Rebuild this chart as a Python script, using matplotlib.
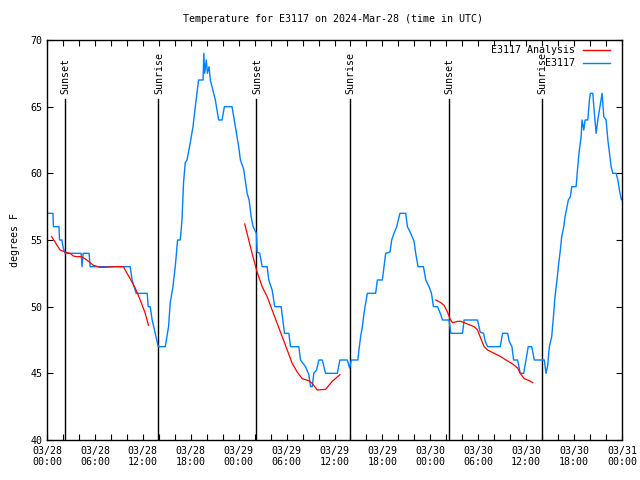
import matplotlib
matplotlib.use("Agg")
import matplotlib.pyplot as plt
import numpy as np

# hours since 2024-03-28 00:00 UTC
blue_h = [0.0, 0.75, 0.8, 1.5, 1.57, 1.88, 2.0, 2.26, 4.27, 4.39, 4.52, 5.27, 5.4, 10.41, 10.66, 10.9,
          11.17, 12.55, 12.67, 12.92, 13.17, 13.55, 13.93, 14.81, 15.22, 15.43, 15.77, 16.06, 16.35,
          16.69, 16.9, 17.1, 17.31, 17.53, 17.94, 18.28, 18.57, 18.98, 19.54, 19.64, 19.74, 19.95,
          20.08, 20.29, 20.45, 20.66, 21.08, 21.49, 21.92, 22.21, 23.17, 23.59, 24.0, 24.22, 24.63,
          25.06, 25.31, 25.56, 25.81, 26.22, 26.31, 26.64, 26.94, 27.57, 27.77, 28.19, 28.52, 29.32,
          29.57, 29.74, 30.28, 30.49, 31.53, 31.74, 32.37, 32.79, 33.0, 33.21, 33.41, 33.75, 34.04,
          34.47, 34.88, 36.35, 36.68, 37.6, 37.89, 38.1, 38.93, 39.06, 39.27, 39.49, 39.69, 39.9,
          40.11, 41.15, 41.37, 41.99, 42.2, 42.41, 42.95, 43.16, 43.45, 43.79, 44.2, 44.92, 45.13,
          45.55, 45.96, 46.17, 46.46, 47.14, 47.43, 47.84, 48.14, 48.39, 48.9, 49.31, 49.52, 50.35,
          50.56, 52.03, 52.23, 53.91, 54.24, 54.67, 54.87, 55.17, 56.75, 57.05, 57.68, 57.88, 58.22,
          58.43, 58.93, 59.26, 59.69, 59.97, 60.26, 60.69, 61.02, 61.98, 62.27, 62.48, 62.7, 62.9,
          63.2, 63.45, 63.61, 63.86, 64.03, 64.28, 64.45, 64.71, 64.87, 65.12, 65.28, 65.53, 65.71,
          66.25, 66.46, 66.66, 66.88, 67.0, 67.21, 67.38, 67.72, 67.92, 68.04, 68.34, 68.54, 68.76,
          68.97, 69.17, 69.38, 69.51, 69.72, 70.01, 70.23, 70.43, 70.64, 70.85, 71.27, 71.48, 71.68,
          71.89, 72.0]
blue_t = [57, 57, 56, 56, 55, 55, 54.5, 54, 54, 53, 54, 54, 53, 53, 52, 51.5,
          51, 51, 50, 50, 49, 48, 47, 47, 48.5, 50.3, 51.5, 53, 55,
          55, 56.5, 59.3, 60.8, 61, 62.3, 63.5, 65, 67, 67, 69, 67.5, 68.5,
          67.5, 68, 67, 66.5, 65.5, 64, 64, 65, 65, 63.5, 62, 61, 60.3,
          58.5, 58, 56.75, 56, 55.5, 54.1, 54, 53, 53, 52, 51.25, 50, 50,
          48.8, 48, 48, 47, 47, 46, 45.5, 44.9, 44, 44, 45, 45.25, 46,
          46, 45, 45, 46, 46, 45.4, 46, 46, 46.75, 47.75, 48.5, 49.5, 50.25,
          51, 51, 52, 52, 53, 54, 54.1, 55, 55.5, 56, 57, 57, 56,
          55.5, 54.9, 54, 53, 53, 52, 51.5, 51, 50, 50, 49.4, 49, 49,
          48, 48, 49, 49, 48.1, 48, 47.4, 47, 47, 48, 48, 47.4, 47,
          46, 46, 45, 45, 46, 47, 47, 46, 46, 46, 45, 45.6, 47,
          47.75, 49.5, 50.75, 52, 53, 54.25, 55.25, 56, 56.75, 57.5, 58, 58.25, 59,
          59, 60.5, 61.75, 62.75, 64, 63.25, 64, 64, 65.5, 66, 66, 64.5, 63,
          64, 64.75, 65.5, 66, 64.25, 64, 62.5, 61.5, 60.5, 60, 60, 59.5, 58.75,
          58.1, 58]

red1_h = [0.59, 1.63, 2.26, 2.89, 3.3, 3.73, 4.35, 4.98, 5.81, 6.65, 7.06, 8.75, 9.57, 9.79,
          10.41, 11.04, 11.67, 12.3, 12.71]
red1_t = [55.25, 54.25, 54.1, 54, 53.8, 53.75, 53.75, 53.5, 53.1, 52.95, 52.95, 53, 53, 52.75,
          52.1, 51.4, 50.5, 49.5, 48.6]
red2_h = [24.76, 25.26, 25.68, 26.31, 26.94, 27.57, 28.19, 28.82, 29.45, 30.08, 30.7, 31.33,
          31.96, 32.79, 33.21, 33.84, 34.88, 35.72, 36.68]
red2_t = [56.2, 55, 54, 52.6, 51.5, 50.75, 49.75, 48.75, 47.75, 46.75, 45.75, 45.1,
          44.6, 44.45, 44.25, 43.75, 43.8, 44.4, 44.9]
red3_h = [48.68, 49.31, 49.72, 50.15, 50.48, 50.78, 51.41, 51.82, 52.45, 53.07, 53.49, 53.91,
          54.33, 54.74, 55.17, 56.0, 56.83, 57.47, 58.31, 58.93, 59.26, 59.76, 60.39, 60.82]
red3_t = [50.5, 50.3, 50.1, 49.6, 49.05, 48.8, 48.9, 48.9, 48.75, 48.6, 48.5, 48.25,
          47.6, 47.0, 46.75, 46.5, 46.25, 46.0, 45.7, 45.4, 45.0, 44.6, 44.45, 44.3]

sun_h = [2.26, 13.96, 26.22, 37.89, 50.31, 61.98]
sun_labels = ["Sunset", "Sunrise", "Sunset", "Sunrise", "Sunset", "Sunrise"]

tick_h = [0, 6, 12, 18, 24, 30, 36, 42, 48, 54, 60, 66, 72]
tick_labels = ["03/28\n00:00", "03/28\n06:00", "03/28\n12:00", "03/28\n18:00",
               "03/29\n00:00", "03/29\n06:00", "03/29\n12:00", "03/29\n18:00",
               "03/30\n00:00", "03/30\n06:00", "03/30\n12:00", "03/30\n18:00",
               "03/31\n00:00"]

FONT = "DejaVu Sans Mono"
FS = 7.2
BLUE = "#0080ff"
RED = "#ff0000"

fig = plt.figure(figsize=(6.4, 4.8), dpi=100)
ax = fig.add_axes([47 / 640, 40 / 480, 575 / 640, 400 / 480])

for h, lab in zip(sun_h, sun_labels):
    ax.plot([h, h], [40, 65.6], color="black", lw=1.0)
    ax.text(h + 0.1, 65.95, lab, rotation=90, ha="center", va="bottom",
            fontsize=FS, family=FONT)

ax.plot(blue_h, blue_t, color=BLUE, lw=1.0)
for hh, tt in [(red1_h, red1_t), (red2_h, red2_t), (red3_h, red3_t)]:
    ax.plot(hh, tt, color=RED, lw=0.9)

ax.set_xlim(0, 72)
ax.set_ylim(40, 70)
ax.set_xticks(tick_h)
ax.set_xticklabels(tick_labels, family=FONT, fontsize=FS)
ax.set_xticks(np.arange(0, 73, 2), minor=True)
ax.set_yticks(np.arange(40, 71, 5))
ax.set_yticklabels([str(v) for v in range(40, 71, 5)], family=FONT, fontsize=FS)
ax.tick_params(which="both", direction="in", top=True, right=True, length=4, width=0.8)
ax.tick_params(axis="x", which="major", pad=4)
for s in ax.spines.values():
    s.set_linewidth(1.0)

ax.set_ylabel("degrees F", family=FONT, fontsize=FS)
ax.yaxis.set_label_coords(-27 / 575, 0.5)
fig.text(333 / 640, 1 - 19 / 480, "Temperature for E3117 on 2024-Mar-28 (time in UTC)",
         ha="center", va="center", family=FONT, fontsize=FS)

# legend (manual, gnuplot style)
for i, (lab, col) in enumerate([("E3117 Analysis", RED), ("E3117", BLUE)]):
    yy = 1 - (10 + 13 * i) / 400
    ax.text((575 - 47) / 575, yy, lab, ha="right", va="center",
            transform=ax.transAxes, family=FONT, fontsize=FS)
    ax.plot([(583 - 47) / 575, (610 - 47) / 575], [yy, yy], color=col, lw=1.0,
            transform=ax.transAxes)

fig.savefig("out.png", dpi=100)
